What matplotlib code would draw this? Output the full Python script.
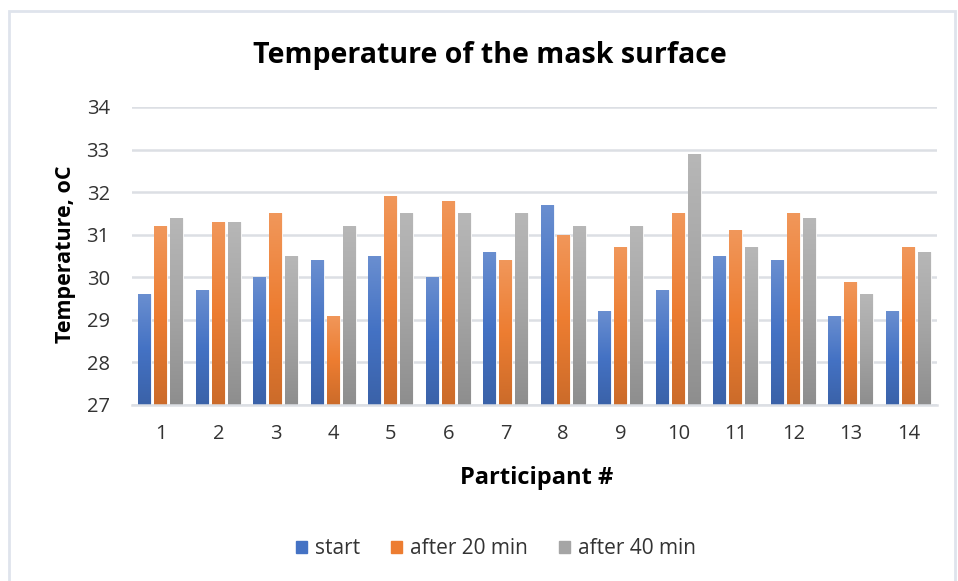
import matplotlib.pyplot as plt
import numpy as np
from matplotlib.colors import to_rgb, LinearSegmentedColormap
from matplotlib.patches import Rectangle

participants = ["1", "2", "3", "4", "5", "6", "7", "8", "9", "10", "11", "12", "13", "14"]
start = [29.6, 29.7, 30.0, 30.4, 30.5, 30.0, 30.6, 31.7, 29.2, 29.7, 30.5, 30.4, 29.1, 29.2]
after20 = [31.2, 31.3, 31.5, 29.1, 31.9, 31.8, 30.4, 31.0, 30.7, 31.5, 31.1, 31.5, 29.9, 30.7]
after40 = [31.4, 31.3, 30.5, 31.2, 31.5, 31.5, 31.5, 31.2, 31.2, 32.9, 30.7, 31.4, 29.6, 30.6]
series_names = ["start", "after 20 min", "after 40 min"]
colors = ["#4472C4", "#ED7D31", "#A5A5A5"]

plt.rcParams['font.family'] = ['Open Sans', 'DejaVu Sans']

W, H = 958, 581
fig = plt.figure(figsize=(W / 100, H / 100), dpi=100)
ax = fig.add_axes([132 / W, 1 - 405 / H, 805 / W, 298 / H])

# light frame around the chart area (like the Excel chart border)
fig.patches.append(Rectangle((9 / W, -0.01), 946 / W, 1 - 11 / H + 0.01,
                             transform=fig.transFigure, fill=False,
                             edgecolor="#dfe4ec", linewidth=2))

x = np.arange(len(participants))
width = 0.225
offs = [-0.28, 0.0, 0.28]
ymin = 27


def gradient_cmap(c):
    r = np.array(to_rgb(c))
    top = r + (1 - r) * 0.2
    bottom = r * 0.86
    return LinearSegmentedColormap.from_list("g", [bottom, r, top])


for vals, name, col, off in zip([start, after20, after40], series_names, colors, offs):
    bars = ax.bar(x + off, np.array(vals) - ymin, width, bottom=ymin, color=col,
                  edgecolor="white", linewidth=0.6, label=name, zorder=2)
    cm = gradient_cmap(col)
    grad = np.linspace(0, 1, 100).reshape(-1, 1)
    for b in bars:
        bx, by = b.get_x(), b.get_y()
        im = ax.imshow(grad, cmap=cm, origin="lower", aspect="auto",
                       extent=[bx, bx + b.get_width(), by, by + b.get_height()],
                       zorder=2.5)
        im.set_clip_path(b)

ax.set_xlim(-0.5, len(participants) - 0.5)
ax.set_ylim(27, 34)
ax.set_yticks(range(27, 35))
ax.set_xticks(x)
ax.set_xticklabels(participants)
ax.tick_params(axis="both", length=0, labelsize=14.5, colors="#333333")
ax.tick_params(axis="x", pad=14)
ax.tick_params(axis="y", pad=16)
ax.yaxis.grid(True, color="#dcdfe4", linewidth=1.8, zorder=0)
ax.set_axisbelow(True)
for s in ["top", "right", "left"]:
    ax.spines[s].set_visible(False)
ax.spines["bottom"].set_color("#dcdfe4")
ax.spines["bottom"].set_linewidth(1.8)

fig.text(490 / W, 1 - 55 / H, "Temperature of the mask surface", fontsize=20.5,
         fontweight="bold", ha="center", va="center")
fig.text(66 / W, 1 - 254 / H, "Temperature, oC", fontsize=15.5, fontweight="bold",
         ha="center", va="center", rotation=90)
fig.text(537 / W, 1 - 478 / H, "Participant #", fontsize=17, fontweight="bold",
         ha="center", va="center")

handles = [Rectangle((0, 0), 1, 1, color=c) for c in colors]
fig.legend(handles, series_names, loc="center", bbox_to_anchor=(496 / W, 1 - 549 / H),
           ncol=3, frameon=False, fontsize=15, handlelength=0.5, handleheight=0.5,
           columnspacing=1.5, handletextpad=0.4, labelcolor="#333333")

fig.savefig("out.png", dpi=100)
